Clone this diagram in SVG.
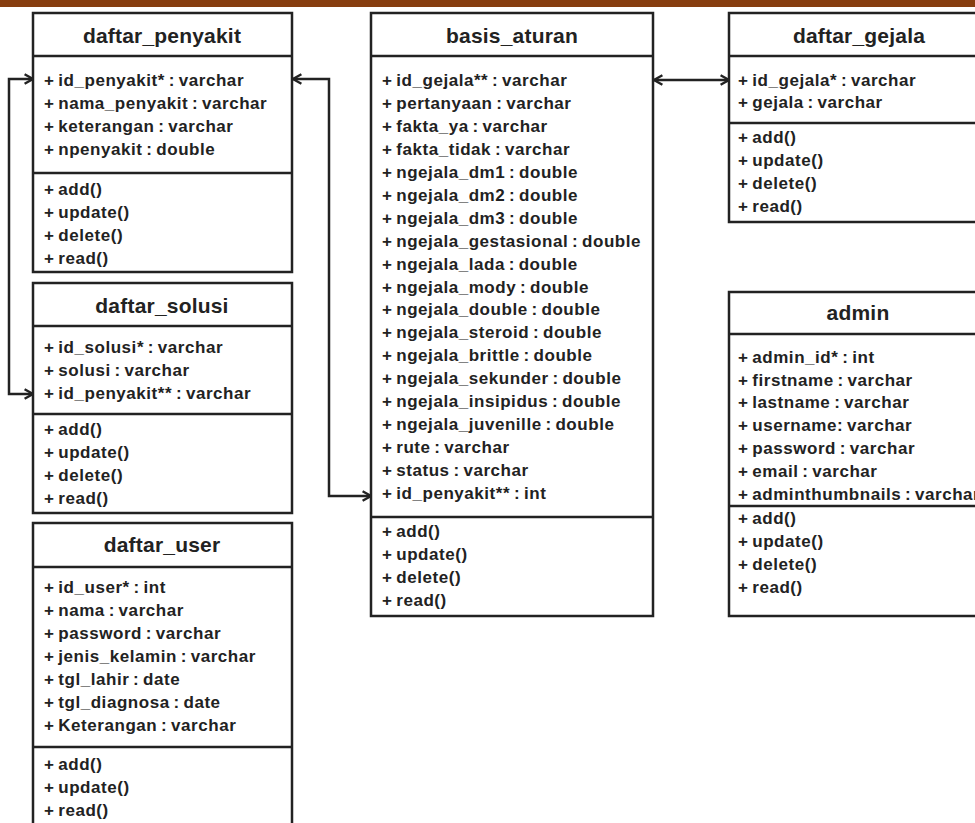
<svg xmlns="http://www.w3.org/2000/svg" width="975" height="823" viewBox="0 0 975 823">
<style>
.box{fill:#fff;stroke:#222;stroke-width:2.5}
.sep{stroke:#222;stroke-width:2.5}
.t{font-family:"Liberation Sans",Arial,sans-serif;font-weight:bold;font-size:21px;fill:#222;text-anchor:middle;letter-spacing:0.2px}
.a{font-family:"Liberation Sans",Arial,sans-serif;font-weight:bold;font-size:17px;fill:#222;letter-spacing:0.55px;word-spacing:-1.5px}
.c{fill:none;stroke:#222;stroke-width:2.5}
</style>
<defs>
<marker id="ar" markerUnits="userSpaceOnUse" markerWidth="12" markerHeight="12" refX="8" refY="5" orient="auto-start-reverse" viewBox="0 0 10 10">
<path d="M1,1 L8,5 L1,9" fill="none" stroke="#222" stroke-width="2"/>
</marker>
</defs>
<rect x="0" y="0" width="975" height="823" fill="#fff"/>
<rect x="0" y="0" width="975" height="7" fill="#873e10"/>

<g id="connectors">
<path class="c" d="M33,79 H9 V394 H33" marker-start="url(#ar)" marker-end="url(#ar)"/>
<path class="c" d="M293,79 H329 V496 H371" marker-start="url(#ar)" marker-end="url(#ar)"/>
<path class="c" d="M654,80 H729" marker-start="url(#ar)" marker-end="url(#ar)"/>
</g>

<g id="daftar_penyakit">
<rect class="box" x="33" y="13" width="259" height="259"/>
<line class="sep" x1="33" y1="56" x2="292" y2="56"/>
<line class="sep" x1="33" y1="173" x2="292" y2="173"/>
<text class="t" x="162" y="43">daftar_penyakit</text>
<text class="a" x="44" y="86">+ id_penyakit* : varchar</text>
<text class="a" x="44" y="109">+ nama_penyakit : varchar</text>
<text class="a" x="44" y="132">+ keterangan : varchar</text>
<text class="a" x="44" y="155">+ npenyakit : double</text>
<text class="a" x="44" y="195">+ add()</text>
<text class="a" x="44" y="218">+ update()</text>
<text class="a" x="44" y="241">+ delete()</text>
<text class="a" x="44" y="264">+ read()</text>
</g>

<g id="daftar_solusi">
<rect class="box" x="33" y="283" width="259" height="230"/>
<line class="sep" x1="33" y1="326" x2="292" y2="326"/>
<line class="sep" x1="33" y1="414" x2="292" y2="414"/>
<text class="t" x="162" y="313">daftar_solusi</text>
<text class="a" x="44" y="353">+ id_solusi* : varchar</text>
<text class="a" x="44" y="376">+ solusi : varchar</text>
<text class="a" x="44" y="399">+ id_penyakit** : varchar</text>
<text class="a" x="44" y="435">+ add()</text>
<text class="a" x="44" y="458">+ update()</text>
<text class="a" x="44" y="481">+ delete()</text>
<text class="a" x="44" y="504">+ read()</text>
</g>

<g id="daftar_user">
<rect class="box" x="33" y="523" width="259" height="320"/>
<line class="sep" x1="33" y1="567" x2="292" y2="567"/>
<line class="sep" x1="33" y1="747" x2="292" y2="747"/>
<text class="t" x="162" y="552">daftar_user</text>
<text class="a" x="44" y="593">+ id_user* : int</text>
<text class="a" x="44" y="616">+ nama : varchar</text>
<text class="a" x="44" y="639">+ password : varchar</text>
<text class="a" x="44" y="662">+ jenis_kelamin : varchar</text>
<text class="a" x="44" y="685">+ tgl_lahir : date</text>
<text class="a" x="44" y="708">+ tgl_diagnosa : date</text>
<text class="a" x="44" y="731">+ Keterangan : varchar</text>
<text class="a" x="44" y="770">+ add()</text>
<text class="a" x="44" y="793">+ update()</text>
<text class="a" x="44" y="816">+ read()</text>
</g>

<g id="basis_aturan">
<rect class="box" x="371" y="13" width="282" height="603"/>
<line class="sep" x1="371" y1="56" x2="653" y2="56"/>
<line class="sep" x1="371" y1="517" x2="653" y2="517"/>
<text class="t" x="512" y="43">basis_aturan</text>
<text class="a" x="382" y="86">+ id_gejala** : varchar</text>
<text class="a" x="382" y="109">+ pertanyaan : varchar</text>
<text class="a" x="382" y="132">+ fakta_ya : varchar</text>
<text class="a" x="382" y="155">+ fakta_tidak : varchar</text>
<text class="a" x="382" y="178">+ ngejala_dm1 : double</text>
<text class="a" x="382" y="201">+ ngejala_dm2 : double</text>
<text class="a" x="382" y="224">+ ngejala_dm3 : double</text>
<text class="a" x="382" y="247">+ ngejala_gestasional : double</text>
<text class="a" x="382" y="270">+ ngejala_lada : double</text>
<text class="a" x="382" y="293">+ ngejala_mody : double</text>
<text class="a" x="382" y="315">+ ngejala_double : double</text>
<text class="a" x="382" y="338">+ ngejala_steroid : double</text>
<text class="a" x="382" y="361">+ ngejala_brittle : double</text>
<text class="a" x="382" y="384">+ ngejala_sekunder : double</text>
<text class="a" x="382" y="407">+ ngejala_insipidus : double</text>
<text class="a" x="382" y="430">+ ngejala_juvenille : double</text>
<text class="a" x="382" y="453">+ rute : varchar</text>
<text class="a" x="382" y="476">+ status : varchar</text>
<text class="a" x="382" y="499">+ id_penyakit** : int</text>
<text class="a" x="382" y="537">+ add()</text>
<text class="a" x="382" y="560">+ update()</text>
<text class="a" x="382" y="583">+ delete()</text>
<text class="a" x="382" y="606">+ read()</text>
</g>

<g id="daftar_gejala">
<rect class="box" x="729" y="13" width="259" height="209"/>
<line class="sep" x1="729" y1="56" x2="988" y2="56"/>
<line class="sep" x1="729" y1="123" x2="988" y2="123"/>
<text class="t" x="859" y="43">daftar_gejala</text>
<text class="a" x="738" y="86">+ id_gejala* : varchar</text>
<text class="a" x="738" y="108">+ gejala : varchar</text>
<text class="a" x="738" y="143">+ add()</text>
<text class="a" x="738" y="166">+ update()</text>
<text class="a" x="738" y="189">+ delete()</text>
<text class="a" x="738" y="212">+ read()</text>
</g>

<g id="admin">
<rect class="box" x="729" y="292" width="259" height="324"/>
<line class="sep" x1="729" y1="334" x2="988" y2="334"/>
<line class="sep" x1="729" y1="506" x2="988" y2="506"/>
<text class="t" x="858" y="320">admin</text>
<text class="a" x="738" y="363">+ admin_id* : int</text>
<text class="a" x="738" y="386">+ firstname : varchar</text>
<text class="a" x="738" y="408">+ lastname : varchar</text>
<text class="a" x="738" y="431">+ username: varchar</text>
<text class="a" x="738" y="454">+ password : varchar</text>
<text class="a" x="738" y="477">+ email : varchar</text>
<text class="a" x="738" y="500">+ adminthumbnails : varchar</text>
<text class="a" x="738" y="524">+ add()</text>
<text class="a" x="738" y="547">+ update()</text>
<text class="a" x="738" y="570">+ delete()</text>
<text class="a" x="738" y="593">+ read()</text>
</g>
</svg>
